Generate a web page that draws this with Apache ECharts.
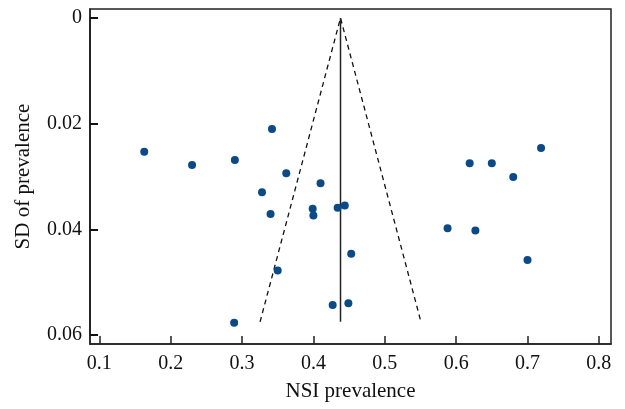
<!DOCTYPE html>
<html><head><meta charset="utf-8">
<script src="https://cdn.jsdelivr.net/npm/echarts@6/dist/echarts.min.js"></script>
<style>html,body{margin:0;padding:0;background:#fff}#c{width:625px;height:409px}</style>
</head><body><div id="c"></div>
<script>
const prevalence = [0.163,0.230,0.290,0.342,0.362,0.328,0.410,0.340,0.399,0.400,0.434,0.444,0.453,0.350,0.427,0.449,0.289,0.619,0.650,0.680,0.719,0.588,0.627,0.700];
const sdPrev     = [0.0253,0.0278,0.0269,0.0210,0.0294,0.0330,0.0313,0.0371,0.0361,0.0374,0.0359,0.0355,0.0446,0.0478,0.0543,0.0540,0.0577,0.0275,0.0275,0.0301,0.0246,0.0398,0.0402,0.0458];
const pooled = 0.438;
const funnelSdMax = 0.0575;
const xTicks = [0.1,0.2,0.3,0.4,0.5,0.6,0.7,0.8];
const yTicks = [0,0.02,0.04,0.06];

const pts = prevalence.map((x,i)=>[x, sdPrev[i]]);
const funnel = [[pooled-1.96*funnelSdMax, funnelSdMax],[pooled,0],[pooled+1.96*funnelSdMax, funnelSdMax]];
const vline = [[pooled,0],[pooled,funnelSdMax]];
const font = 'Liberation Serif';
const yMin = -0.0017, yMax = 0.0617;
const gTop = 9, gBot = 65, gH = 409 - gTop - gBot;
const pad = (0 - yMin) / (yMax - yMin) * gH;
const chart = echarts.init(document.getElementById('c'));
chart.setOption({
  animation:false,
  grid:[
    {left:90,right:14,top:gTop,bottom:gBot,show:true,borderColor:'#222',borderWidth:1.5,backgroundColor:'transparent'},
    {left:90,right:14,top:gTop+pad,bottom:gBot+pad,show:false}
  ],
  xAxis:[
    {type:'value',gridIndex:0,min:0.087,max:0.817,position:'bottom',
    name:'NSI prevalence',nameLocation:'middle',nameGap:37,
    nameTextStyle:{fontFamily:font,fontSize:21,color:'#111'},
    axisLine:{show:true,onZero:false,lineStyle:{color:'#222',width:1.5}},
    axisTick:{show:true,inside:true,length:8,customValues:xTicks,lineStyle:{color:'#222',width:1.5}},
    axisLabel:{customValues:xTicks,fontFamily:font,fontSize:20,color:'#111',margin:10,formatter:v=>String(Math.round(v*10)/10)},
    splitLine:{show:false}},
    {type:'value',gridIndex:1,min:0,max:1,show:false}
  ],
  yAxis:[
    {type:'value',gridIndex:0,inverse:true,min:yMin,max:yMax,
    name:'SD of prevalence',nameLocation:'middle',nameGap:56,nameRotate:90,
    nameTextStyle:{fontFamily:font,fontSize:21,color:'#111'},
    axisLine:{show:true,onZero:false,lineStyle:{color:'#222',width:1.5}},
    axisTick:{show:false},axisLabel:{show:false},splitLine:{show:false}},
    {type:'value',gridIndex:1,position:'left',inverse:true,min:yTicks[0],max:yTicks[yTicks.length-1],interval:0.02,
    axisLine:{show:true,onZero:false,lineStyle:{color:'#222',width:1.5}},
    axisTick:{show:true,inside:true,length:8,lineStyle:{color:'#111',width:2}},
    axisLabel:{fontFamily:font,fontSize:20,color:'#111',margin:8,formatter:v=>v===0?'0':v.toFixed(2)},
    splitLine:{show:false}}
  ],
  series:[
    {type:'line',data:funnel,symbol:'none',lineStyle:{color:'#111',width:1.3,type:[5,4]},silent:true,z:2},
    {type:'line',data:vline,symbol:'none',lineStyle:{color:'#222',width:1.5},silent:true,z:2},
    {type:'scatter',data:pts,symbolSize:8,itemStyle:{color:'#0c4a87',opacity:1},z:3},
    {type:'scatter',xAxisIndex:1,yAxisIndex:1,data:[],silent:true}
  ]
});
</script></body></html>
